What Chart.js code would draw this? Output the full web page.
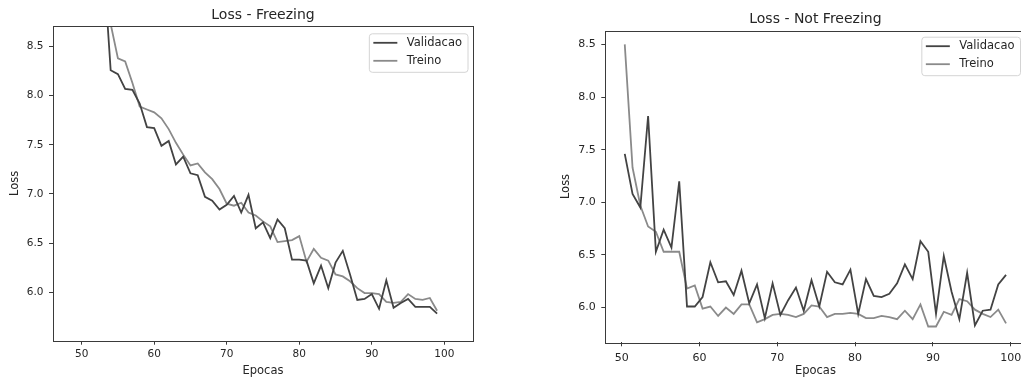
<!DOCTYPE html>
<html>
<head>
<meta charset="utf-8">
<script src="https://cdn.jsdelivr.net/npm/chart.js@4/dist/chart.umd.min.js"></script>
<style>
  html, body { margin: 0; padding: 0; background: #fff; overflow: hidden; }
  .box { position: absolute; top: 0; height: 378px; }
  #boxFreeze { left: 0; width: 500px; }
  #boxNot { left: 520px; width: 527px; }
</style>
</head>
<body>
<div class="box" id="boxFreeze"><canvas id="freeze"></canvas></div>
<div class="box" id="boxNot"><canvas id="notFreeze"></canvas></div>
<script>
// epochs
const range = (a, b) => Array.from({ length: b - a + 1 }, (_, i) => a + i);
const epochsFreeze = range(53, 99);
const epochsNot = range(50, 99);
const xOffsetNot = 0.4; // points sit a bit right of the integer ticks in the picture

// Loss - Freezing
const valFreeze = [
  9.37, 8.26, 8.22, 8.07, 8.06, 7.92, 7.68, 7.67, 7.49, 7.54,
  7.30, 7.38, 7.21, 7.19, 6.97, 6.93, 6.84, 6.89, 6.98, 6.81,
  6.99, 6.65, 6.71, 6.55, 6.74, 6.65, 6.33, 6.33, 6.32, 6.09,
  6.27, 6.04, 6.30, 6.42, 6.18, 5.92, 5.93, 5.98, 5.83, 6.12,
  5.84, 5.89, 5.93, 5.85, 5.85, 5.85, 5.78
];
const trainFreeze = [
  9.30, 8.73, 8.38, 8.35, 8.13, 7.89, 7.86, 7.83, 7.77, 7.66,
  7.52, 7.40, 7.29, 7.31, 7.22, 7.15, 7.05, 6.90, 6.88, 6.91,
  6.81, 6.78, 6.72, 6.67, 6.51, 6.52, 6.53, 6.57, 6.31, 6.44,
  6.35, 6.32, 6.18, 6.16, 6.11, 6.04, 5.99, 5.99, 5.98, 5.90,
  5.89, 5.90, 5.98, 5.93, 5.92, 5.94, 5.81
];

// Loss - Not Freezing
const valNot = [
  7.46, 7.08, 6.95, 7.82, 6.53, 6.74, 6.57, 7.20, 6.01, 6.01,
  6.10, 6.43, 6.24, 6.25, 6.12, 6.35, 6.04, 6.22, 5.90, 6.23,
  5.93, 6.07, 6.19, 5.97, 6.26, 6.01, 6.34, 6.24, 6.22, 6.36,
  5.94, 6.27, 6.11, 6.10, 6.13, 6.23, 6.41, 6.27, 6.63, 6.53,
  5.94, 6.49, 6.15, 5.89, 6.33, 5.83, 5.97, 5.98, 6.22, 6.31
];
const trainNot = [
  8.50, 7.33, 6.97, 6.77, 6.72, 6.53, 6.53, 6.53, 6.18, 6.21,
  5.99, 6.01, 5.92, 6.00, 5.94, 6.03, 6.03, 5.86, 5.89, 5.93,
  5.94, 5.93, 5.91, 5.94, 6.02, 6.01, 5.91, 5.94, 5.94, 5.95,
  5.94, 5.90, 5.90, 5.92, 5.91, 5.89, 5.97, 5.89, 6.03, 5.82,
  5.82, 5.96, 5.93, 6.08, 6.06, 5.98, 5.94, 5.91, 5.98, 5.85
];

const seriesNames = ['Validacao', 'Treino'];
const xTicks = [50, 60, 70, 80, 90, 100];
const yTicks = [6.0, 6.5, 7.0, 7.5, 8.0, 8.5];

const DARK = '#434343';
const LIGHT = '#8a8a8a';
const TEXT = '#262626';
const FONT = '"DejaVu Sans", sans-serif';

Chart.defaults.font.family = FONT;
Chart.defaults.color = TEXT;

// matplotlib-like box round the axes
const frame = {
  id: 'frame',
  afterDatasetsDraw(chart) {
    const { ctx, chartArea: a } = chart;
    ctx.save();
    ctx.strokeStyle = '#3a3a3a';
    ctx.lineWidth = 1;
    ctx.strokeRect(Math.round(a.left) + 0.5, Math.round(a.top) + 0.5,
      Math.round(a.right - a.left), Math.round(a.bottom - a.top));
    ctx.restore();
  }
};

// legend drawn inside the axes, upper right
const legendBox = {
  id: 'legendBox',
  afterDatasetsDraw(chart, args, o) {
    const { ctx, chartArea: a } = chart;
    const sets = chart.data.datasets;
    ctx.save();
    ctx.font = o.size + 'px ' + FONT;
    const textW = Math.max(...sets.map(d => ctx.measureText(d.label).width));
    const w = 4.5 + 24 + 9.5 + textW + 5.5;
    const h = 38.5;
    const x = a.right - o.inset - w;
    const y = a.top + o.top;
    ctx.beginPath();
    ctx.roundRect(x + 0.5, y + 0.5, w, h, 3);
    ctx.fillStyle = 'rgba(255,255,255,0.9)';
    ctx.fill();
    ctx.strokeStyle = '#d4d4d4';
    ctx.lineWidth = 1;
    ctx.stroke();
    sets.forEach((d, i) => {
      const cy = y + 9.5 + i * 18;
      ctx.beginPath();
      ctx.moveTo(x + 4.5, cy);
      ctx.lineTo(x + 28.5, cy);
      ctx.strokeStyle = d.borderColor;
      ctx.lineWidth = 1.8;
      ctx.stroke();
      ctx.fillStyle = TEXT;
      ctx.textBaseline = 'middle';
      ctx.fillText(d.label, x + 38, cy);
    });
    ctx.restore();
  }
};

function makeChart(id, cfg) {
  const line = (label, xs, ys, color) => ({
    label,
    data: xs.map((x, i) => ({ x, y: ys[i] })),
    borderColor: color,
    borderWidth: 1.8,
    pointRadius: 0,
    tension: 0,
    fill: false
  });
  return new Chart(document.getElementById(id), {
    type: 'line',
    data: {
      datasets: [
        line(seriesNames[0], cfg.xs, cfg.val, DARK),
        line(seriesNames[1], cfg.xs, cfg.train, LIGHT)
      ]
    },
    options: {
      responsive: true,
      maintainAspectRatio: false,
      animation: false,
      layout: { padding: { left: 0, right: cfg.padRight, top: 0, bottom: 0 } },
      plugins: {
        legend: { display: false },
        tooltip: { enabled: false },
        title: {
          display: true,
          text: cfg.title,
          fullSize: false,
          color: TEXT,
          font: { size: 14, weight: 'normal' },
          padding: cfg.titlePad
        },
        legendBox: { size: 11.5, inset: 5.5, top: cfg.legendTop }
      },
      scales: {
        x: {
          type: 'linear',
          min: cfg.xMin,
          max: cfg.xMax,
          afterFit: s => { s.height = cfg.xAxisH; },
          afterBuildTicks: s => { s.ticks = xTicks.map(v => ({ value: v })); },
          border: { display: false },
          grid: { drawOnChartArea: false, drawTicks: true, tickLength: 4, color: '#3a3a3a' },
          ticks: { padding: cfg.xTickPad, maxRotation: 0, font: { size: cfg.tickSize }, callback: v => String(v) },
          title: { display: true, text: 'Epocas', font: { size: 11.5 }, padding: { top: 0, bottom: 0 } }
        },
        y: {
          min: cfg.yMin,
          max: cfg.yMax,
          afterFit: s => { s.width = cfg.yAxisW; },
          afterBuildTicks: s => { s.ticks = yTicks.map(v => ({ value: v })); },
          border: { display: false },
          grid: { drawOnChartArea: false, drawTicks: true, tickLength: 4, color: '#3a3a3a' },
          ticks: { padding: 5.6, font: { size: cfg.tickSize }, callback: v => v.toFixed(1) },
          title: { display: true, text: 'Loss', font: { size: 11.5 }, padding: { top: cfg.yTitlePad, bottom: 0 } }
        }
      }
    },
    plugins: [frame, legendBox]
  });
}

makeChart('freeze', {
  title: 'Loss - Freezing',
  xs: epochsFreeze, val: valFreeze, train: trainFreeze,
  xMin: 46.05, xMax: 103.95, yMin: 5.505, yMax: 8.71,
  padRight: 27, yAxisW: 53, xAxisH: 37.3,
  titlePad: { top: 6.6, bottom: 2.6 },
  tickSize: 10.5, xTickPad: 3, yTitlePad: 8.1, legendTop: 7.3
});

makeChart('notFreeze', {
  title: 'Loss - Not Freezing',
  xs: epochsNot.map(e => e + xOffsetNot), val: valNot, train: trainNot,
  xMin: 47.9, xMax: 101.9, yMin: 5.67, yMax: 8.63,
  padRight: 21.5, yAxisW: 85.3, xAxisH: 35.7,
  titlePad: { top: 10.6, bottom: 3.3 },
  tickSize: 11, xTickPad: 4.8, yTitlePad: 39.1, legendTop: 6
});
</script>
</body>
</html>
